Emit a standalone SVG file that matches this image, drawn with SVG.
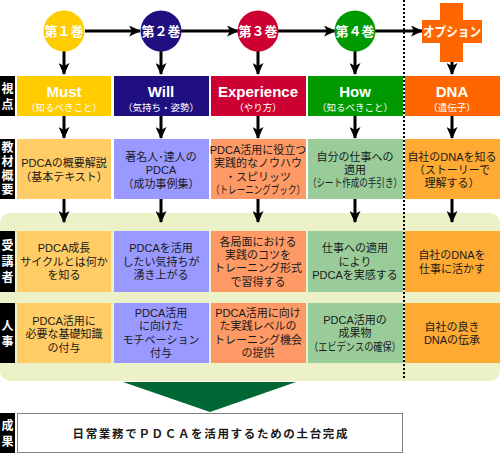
<svg xmlns="http://www.w3.org/2000/svg" width="500" height="454" viewBox="0 0 500 454">
<style>
.jp{font-family:"Liberation Sans","Noto Sans CJK JP",sans-serif}
.t{font-family:"Liberation Sans","Noto Sans CJK JP",sans-serif;font-size:11px;text-anchor:middle;fill:#1a1a1a}
.lab{font-family:"Liberation Sans","Noto Sans CJK JP",sans-serif;font-size:12px;font-weight:bold;fill:#fff;text-anchor:middle}
.hd{font-family:"Liberation Sans",Arial,sans-serif;font-size:15px;font-weight:bold;fill:#fff;text-anchor:middle}
.sub{font-family:"Liberation Sans","Noto Sans CJK JP",sans-serif;font-size:9.5px;fill:#fff;text-anchor:middle}
.vol{font-family:"Liberation Sans","Noto Sans CJK JP",sans-serif;font-size:13px;font-weight:bold;fill:#fff;text-anchor:middle}
.arr{stroke:#000;stroke-width:3;fill:none;marker-end:url(#ah)}
.must{fill:#FFCC66}.will{fill:#9999FF}.exp{fill:#FF9966}.how{fill:#99CC99}.dna{fill:#FFAA33}
</style>
<defs>
<marker id="ah" viewBox="0 0 12 11" refX="11" refY="5.5" markerWidth="12" markerHeight="11" markerUnits="userSpaceOnUse" orient="auto">
<path d="M0,0 L12,5.5 L0,11 L3,5.5 Z" fill="#000"/>
</marker>
</defs>
<rect width="500" height="454" fill="#fff"/>

<!-- background panel -->
<rect id="panel" x="0" y="213" width="500" height="168" rx="10" ry="10" fill="#ECF1C8"/>

<!-- dotted divider -->
<line x1="404" y1="0" x2="404" y2="380" stroke="#000" stroke-width="2" stroke-dasharray="2 2"/>

<!-- row labels -->
<g id="labels">
<rect x="0" y="76" width="15" height="40" fill="#000"/>
<text class="lab"><tspan x="7.5" y="93">視</tspan><tspan x="7.5" y="109">点</tspan></text>
<rect x="0" y="139" width="15" height="60" fill="#000"/>
<text class="lab"><tspan x="7.5" y="152">教</tspan><tspan x="7.5" y="166">材</tspan><tspan x="7.5" y="180">概</tspan><tspan x="7.5" y="194">要</tspan></text>
<rect x="0" y="231" width="15" height="61" fill="#000"/>
<text class="lab"><tspan x="7.5" y="250">受</tspan><tspan x="7.5" y="266">講</tspan><tspan x="7.5" y="282">者</tspan></text>
<rect x="0" y="303" width="15" height="60" fill="#000"/>
<text class="lab"><tspan x="7.5" y="330">人</tspan><tspan x="7.5" y="346">事</tspan></text>
<rect x="0" y="413" width="15" height="40" fill="#000"/>
<text class="lab"><tspan x="7.5" y="430">成</tspan><tspan x="7.5" y="446">果</tspan></text>
</g>

<!-- connectors -->
<g id="connectors">
<line class="arr" x1="85" y1="31" x2="140" y2="31"/>
<line class="arr" x1="181" y1="31" x2="238" y2="31"/>
<line class="arr" x1="278" y1="31" x2="335" y2="31"/>
<line class="arr" x1="375" y1="31" x2="422" y2="31"/>
<line class="arr" x1="64" y1="51" x2="64" y2="74"/>
<line class="arr" x1="161" y1="51" x2="161" y2="74"/>
<line class="arr" x1="258" y1="51" x2="258" y2="74"/>
<line class="arr" x1="355" y1="51" x2="355" y2="74"/>
<line class="arr" x1="452" y1="62" x2="452" y2="74"/>
<line class="arr" x1="64" y1="116" x2="64" y2="138"/>
<line class="arr" x1="161" y1="116" x2="161" y2="138"/>
<line class="arr" x1="258" y1="116" x2="258" y2="138"/>
<line class="arr" x1="355" y1="116" x2="355" y2="138"/>
<line class="arr" x1="452" y1="116" x2="452" y2="138"/>
<line class="arr" x1="64" y1="199" x2="64" y2="222"/>
<line class="arr" x1="161" y1="199" x2="161" y2="222"/>
<line class="arr" x1="258" y1="199" x2="258" y2="222"/>
<line class="arr" x1="355" y1="199" x2="355" y2="222"/>
<line class="arr" x1="452" y1="199" x2="452" y2="222"/>
<polygon points="123,382 296,382 210,412" fill="#006633"/>
</g>

<!-- volumes -->
<g id="vol1"><circle cx="64" cy="31" r="20.5" fill="#FFCC00"/><text class="vol" x="64" y="36">第１巻</text></g>
<g id="vol2"><circle cx="161" cy="31" r="20.5" fill="#1F0F80"/><text class="vol" x="161" y="36">第２巻</text></g>
<g id="vol3"><circle cx="258" cy="31" r="20.5" fill="#CC0033"/><text class="vol" x="258" y="36">第３巻</text></g>
<g id="vol4"><circle cx="355" cy="31" r="20.5" fill="#009900"/><text class="vol" x="355" y="36">第４巻</text></g>
<g id="option">
<path d="M440,3 H463 V20 H482 V43 H463 V62 H440 V43 H422 V20 H440 Z" fill="#FF6600"/>
<text class="vol" x="452" y="36" textLength="58" lengthAdjust="spacingAndGlyphs">オプション</text>
</g>

<!-- headers -->
<g id="h-must"><rect x="17" y="76" width="94" height="40" fill="#FFCC00"/><text class="hd" x="64" y="97">Must</text><text class="sub" x="64" y="111">（知るべきこと）</text></g>
<g id="h-will"><rect x="114" y="76" width="95" height="40" fill="#1F0F80"/><text class="hd" x="161" y="97">Will</text><text class="sub" x="161" y="111">（気持ち・姿勢）</text></g>
<g id="h-exp"><rect x="211" y="76" width="95" height="40" fill="#CC0033"/><text class="hd" x="258" y="97">Experience</text><text class="sub" x="258" y="111">（やり方）</text></g>
<g id="h-how"><rect x="308" y="76" width="95" height="40" fill="#009900"/><text class="hd" x="355" y="97">How</text><text class="sub" x="355" y="111">（知るべきこと）</text></g>
<g id="h-dna"><rect x="405" y="76" width="95" height="40" fill="#FF6600"/><text class="hd" x="452" y="97">DNA</text><text class="sub" x="452" y="111">（遺伝子）</text></g>

<!-- materials -->
<g id="m-must"><rect class="must" x="17" y="139" width="94" height="60"/>
<text class="t"><tspan x="64" y="167">PDCAの概要解説</tspan><tspan x="64" y="181">（基本テキスト）</tspan></text></g>
<g id="m-will"><rect class="will" x="114" y="139" width="95" height="60"/>
<text class="t"><tspan x="161" y="161">著名人･達人の</tspan><tspan x="161" y="174">PDCA</tspan><tspan x="161" y="188">（成功事例集）</tspan></text></g>
<g id="m-exp"><rect class="exp" x="211" y="139" width="95" height="60"/>
<text class="t"><tspan x="258" y="154">PDCA活用に役立つ</tspan><tspan x="258" y="167">実践的なノウハウ</tspan><tspan x="258" y="181">・スピリッツ</tspan></text>
<text class="t" x="258" y="194" textLength="94" lengthAdjust="spacingAndGlyphs">（トレーニングブック）</text></g>
<g id="m-how"><rect class="how" x="308" y="139" width="95" height="60"/>
<text class="t"><tspan x="355" y="161">自分の仕事への</tspan><tspan x="355" y="174">適用</tspan></text>
<text class="t" x="355" y="187" textLength="94" lengthAdjust="spacingAndGlyphs">（シート作成の手引き）</text></g>
<g id="m-dna"><rect class="dna" x="405" y="139" width="95" height="60"/>
<text class="t"><tspan x="452" y="161">自社のDNAを知る</tspan><tspan x="452" y="174">（ストーリーで</tspan><tspan x="452" y="187">理解する）</tspan></text></g>

<!-- participants -->
<g id="p-must"><rect class="must" x="17" y="231" width="94" height="61"/>
<text class="t"><tspan x="64" y="252">PDCA成長</tspan><tspan x="64" y="266">サイクルとは何か</tspan><tspan x="64" y="279">を知る</tspan></text></g>
<g id="p-will"><rect class="will" x="114" y="231" width="95" height="61"/>
<text class="t"><tspan x="161" y="252">PDCAを活用</tspan><tspan x="161" y="266">したい気持ちが</tspan><tspan x="161" y="279">湧き上がる</tspan></text></g>
<g id="p-exp"><rect class="exp" x="211" y="231" width="95" height="61"/>
<text class="t"><tspan x="258" y="246">各局面における</tspan><tspan x="258" y="259">実践のコツを</tspan><tspan x="258" y="272">トレーニング形式</tspan><tspan x="258" y="286">で習得する</tspan></text></g>
<g id="p-how"><rect class="how" x="308" y="231" width="95" height="61"/>
<text class="t"><tspan x="355" y="252">仕事への適用</tspan><tspan x="355" y="266">により</tspan><tspan x="355" y="279">PDCAを実感する</tspan></text></g>
<g id="p-dna"><rect class="dna" x="405" y="231" width="95" height="61"/>
<text class="t"><tspan x="452" y="259">自社のDNAを</tspan><tspan x="452" y="273">仕事に活かす</tspan></text></g>

<!-- HR -->
<g id="r-must"><rect class="must" x="17" y="303" width="94" height="60"/>
<text class="t"><tspan x="64" y="325">PDCA活用に</tspan><tspan x="64" y="338">必要な基礎知識</tspan><tspan x="64" y="352">の付与</tspan></text></g>
<g id="r-will"><rect class="will" x="114" y="303" width="95" height="60"/>
<text class="t"><tspan x="161" y="317">PDCA活用</tspan><tspan x="161" y="330">に向けた</tspan><tspan x="161" y="344">モチベーション</tspan><tspan x="161" y="357">付与</tspan></text></g>
<g id="r-exp"><rect class="exp" x="211" y="303" width="95" height="60"/>
<text class="t"><tspan x="258" y="317">PDCA活用に向け</tspan><tspan x="258" y="330">た実践レベルの</tspan><tspan x="258" y="344">トレーニング機会</tspan><tspan x="258" y="357">の提供</tspan></text></g>
<g id="r-how"><rect class="how" x="308" y="303" width="95" height="60"/>
<text class="t"><tspan x="355" y="324">PDCA活用の</tspan><tspan x="355" y="337">成果物</tspan></text>
<text class="t" x="355" y="351" textLength="92" lengthAdjust="spacingAndGlyphs">（エビデンスの確保）</text></g>
<g id="r-dna"><rect class="dna" x="405" y="303" width="95" height="60"/>
<text class="t"><tspan x="452" y="331">自社の良き</tspan><tspan x="452" y="344">DNAの伝承</tspan></text></g>

<!-- result -->
<g id="result"><rect x="17.5" y="413.5" width="385" height="39" fill="#fff" stroke="#808080" stroke-width="1"/>
<text class="jp" x="210" y="438" font-size="11.5" font-weight="bold" text-anchor="middle" fill="#1a1a1a" textLength="275" lengthAdjust="spacing">日常業務でＰＤＣＡを活用するための土台完成</text></g>
</svg>
